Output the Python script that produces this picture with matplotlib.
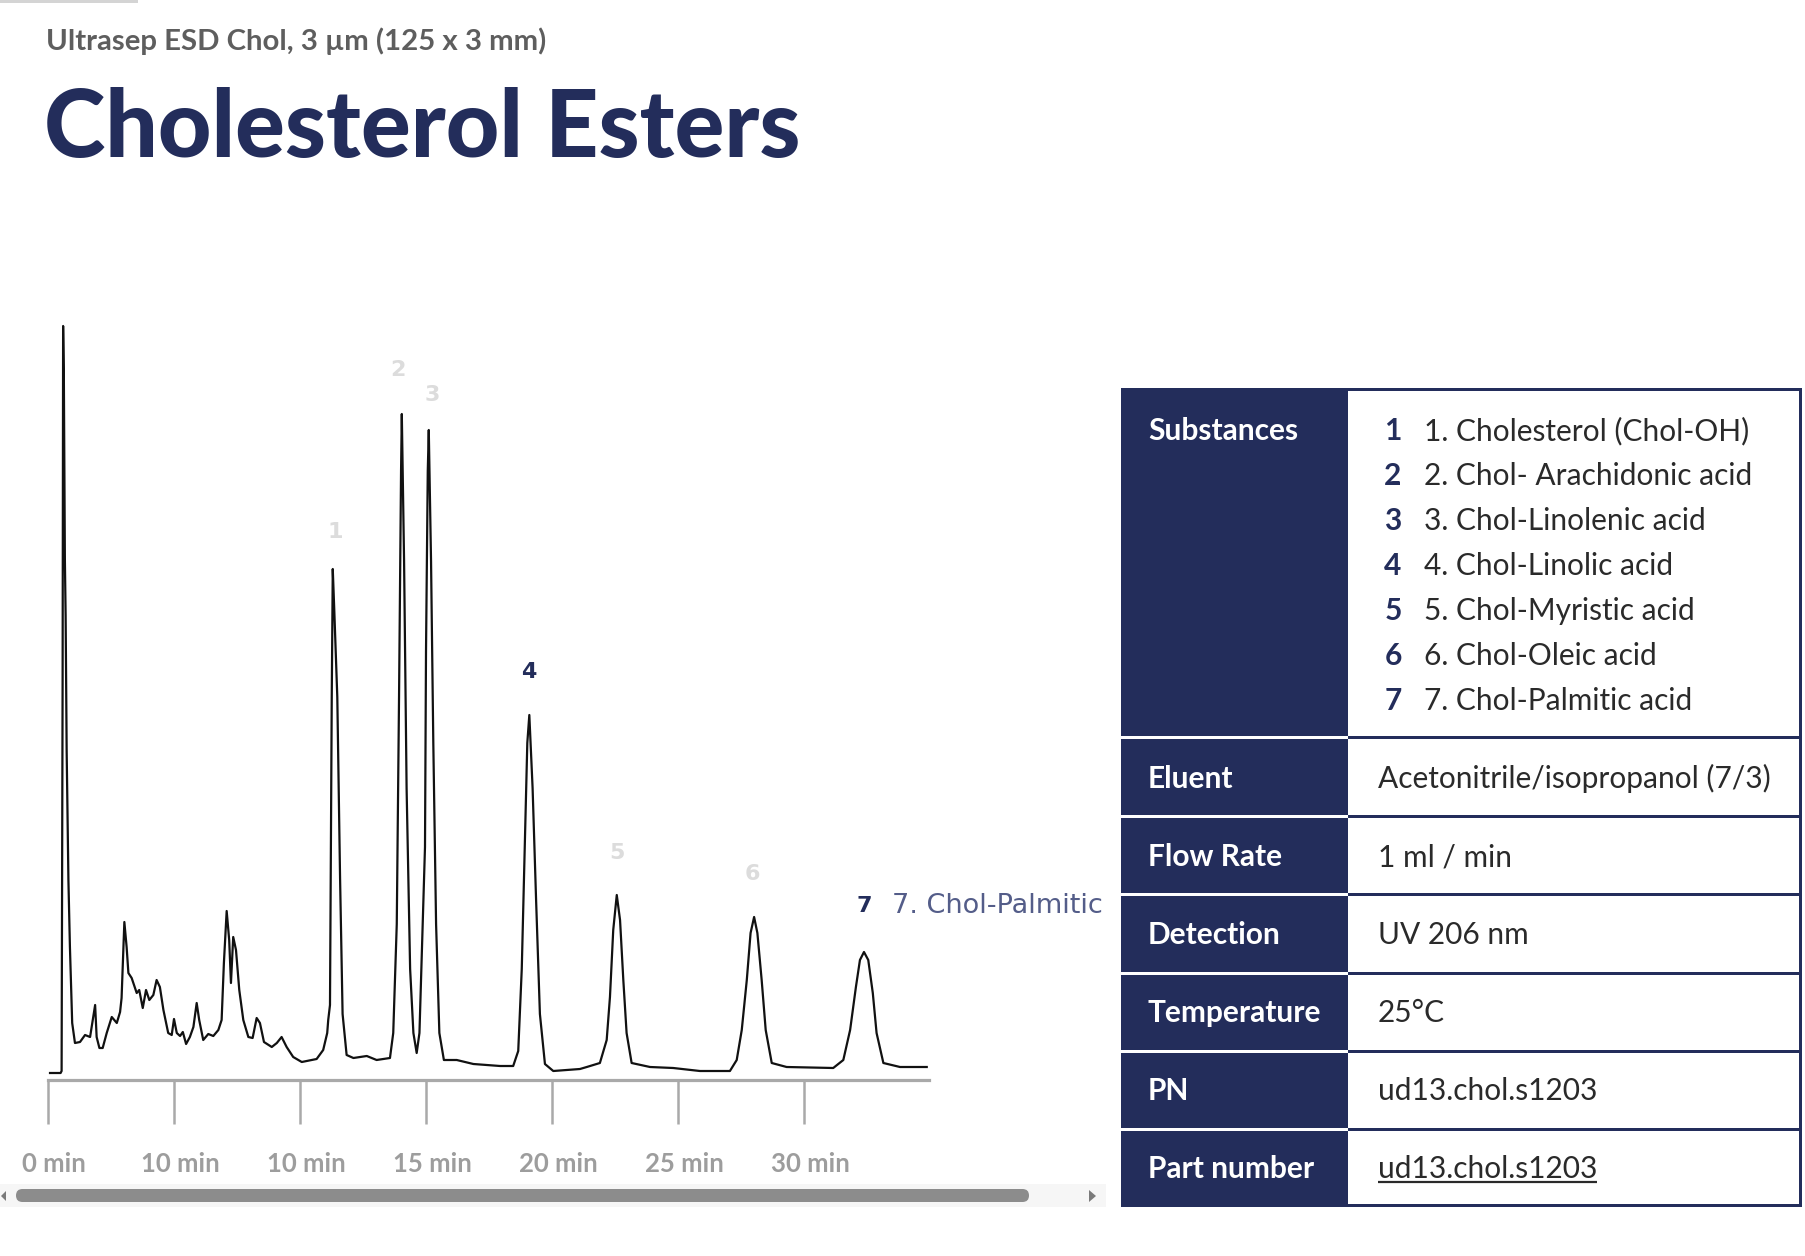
import matplotlib
matplotlib.use("Agg")
import matplotlib.pyplot as plt
from matplotlib.patches import Rectangle, FancyBboxPatch, Polygon
from matplotlib.transforms import ScaledTranslation

NAVY = "#232d5b"
W, H = 1806, 1256

# chromatogram: retention time (min) and detector signal
trace_time = [0.08, 0.50, 0.54, 0.58, 0.60, 0.63, 0.67, 0.70, 0.74, 0.81, 0.87, 0.96,
              1.07, 1.27, 1.47, 1.67, 1.80, 1.87, 1.93, 2.04, 2.17, 2.33, 2.53, 2.73,
              2.86, 2.92, 3.03, 3.12, 3.19, 3.32, 3.52, 3.62, 3.76, 3.89, 4.02, 4.18,
              4.31, 4.44, 4.58, 4.77, 4.91, 5.00, 5.11, 5.24, 5.35, 5.48, 5.63, 5.77,
              5.90, 6.00, 6.16, 6.36, 6.56, 6.76, 6.89, 6.98, 7.09, 7.19, 7.26, 7.35,
              7.46, 7.59, 7.75, 7.95, 8.12, 8.28, 8.41, 8.57, 8.88, 9.08, 9.27, 9.47,
              9.73, 10.07, 10.66, 10.92, 11.08, 11.12, 11.19, 11.23, 11.26, 11.30, 11.36,
              11.48, 11.59, 11.69, 11.85, 12.12, 12.65, 13.04, 13.57, 13.70, 13.84, 13.93,
              14.01, 14.04, 14.13, 14.23, 14.37, 14.50, 14.63, 14.74, 14.87, 14.96, 15.00,
              15.07, 15.11, 15.20, 15.29, 15.40, 15.53, 15.71, 16.22, 16.88, 17.94, 18.46,
              18.66, 18.80, 18.93, 19.02, 19.10, 19.23, 19.37, 19.52, 19.72, 20.05, 21.11,
              21.38, 21.90, 22.17, 22.30, 22.43, 22.57, 22.70, 22.83, 22.96, 23.16, 23.89,
              24.81, 25.87, 27.06, 27.33, 27.53, 27.73, 27.88, 28.02, 28.15, 28.32, 28.48,
              28.72, 29.31, 31.16, 31.56, 31.83, 32.06, 32.22, 32.38, 32.55, 32.73, 32.88,
              33.15, 33.81, 34.87]
trace_signal = [7, 7, 9, 400, 754, 700, 520, 464, 330, 200, 133, 57,
                37, 38, 45, 43, 64, 75, 43, 32, 32, 47, 63, 57,
                68, 82, 158, 133, 107, 102, 87, 90, 72, 90, 80, 85,
                100, 93, 70, 47, 45, 61, 47, 44, 48, 36, 43, 53,
                77, 60, 40, 46, 44, 50, 60, 117, 169, 140, 97, 143,
                130, 90, 60, 43, 42, 62, 57, 38, 33, 37, 43, 33,
                23, 18, 21, 30, 47, 60, 75, 247, 383, 511, 470,
                383, 202, 66, 25, 22, 24, 20, 22, 47, 156, 383,
                609, 666, 519, 292, 111, 47, 27, 47, 156, 233, 428,
                609, 650, 519, 337, 156, 47, 20, 20, 16, 14, 14,
                29, 111, 247, 337, 365, 292, 179, 66, 16, 9, 11,
                13, 17, 40, 83, 150, 185, 160, 100, 47, 17, 13,
                12, 9, 9, 20, 50, 100, 147, 163, 147, 100, 50,
                17, 13, 12, 20, 50, 93, 120, 128, 120, 87, 47,
                17, 13, 13]

peak_ids = [1, 2, 3, 4, 5, 6, 7]
peak_times = [11.30, 14.04, 15.11, 19.10, 22.57, 28.02, 32.38]
peak_heights = [511, 666, 650, 365, 185, 163, 128]
highlighted = [4, 7]

tick_vals = [0, 5, 10, 15, 20, 25, 30]
tick_labels = ["0 min", "10 min", "10 min", "15 min", "20 min", "25 min", "30 min"]

substances = ["1. Cholesterol (Chol-OH)", "2. Chol- Arachidonic acid",
              "3. Chol-Linolenic acid", "4. Chol-Linolic acid",
              "5. Chol-Myristic acid", "6. Chol-Oleic acid", "7. Chol-Palmitic acid"]
param_names = ["Eluent", "Flow Rate", "Detection", "Temperature", "PN", "Part number"]
param_values = ["Acetonitrile/isopropanol (7/3)", "1 ml / min", "UV 206 nm",
                "25°C", "ud13.chol.s1203", "ud13.chol.s1203"]

plt.rcParams["font.family"] = ["Lato", "DejaVu Sans"]

fig = plt.figure(figsize=(W / 100, H / 100), dpi=100)

# full-figure canvas in pixel units (y down) for headings and the table
cv = fig.add_axes([0, 0, 1, 1])
cv.set_xlim(0, W)
cv.set_ylim(H, 0)
cv.axis("off")

cv.add_patch(Rectangle((0, 0), 138, 3, color="#d4d4d4", lw=0))
cv.text(46, 50, "Ultrasep ESD Chol, 3 µm (125 x 3 mm)", fontsize=21.2,
        fontweight="bold", color="#5e5e5e", va="baseline")
cv.text(44, 157, "Cholesterol Esters", fontsize=67, fontweight="black",
        color=NAVY, va="baseline")

# chromatogram axes
px_per_min = 25.2
ax = fig.add_axes([48 / W, 1 - 1080 / H, 881 / W, 780 / H])
ax.patch.set_alpha(0)
ax.plot(trace_time, trace_signal, color="#111111", lw=1.6, solid_joinstyle="round")
ax.set_xlim(0, 881 / px_per_min)
ax.set_ylim(0, 780)
for side in ["top", "left", "right"]:
    ax.spines[side].set_visible(False)
ax.spines["bottom"].set_color("#a9a9a9")
ax.spines["bottom"].set_linewidth(2.3)
ax.set_yticks([])
ax.set_xticks(tick_vals, tick_labels)
ax.tick_params(axis="x", direction="out", length=32, width=1.8, color="#a9a9a9",
               pad=20, labelsize=18.5, labelcolor="#9d9d9d")
shift = ScaledTranslation(0.06, 0, fig.dpi_scale_trans)
for lab in ax.get_xticklabels():
    lab.set_fontweight("bold")
    lab.set_transform(lab.get_transform() + shift)

label_dx = [2, -4, 3, -1, 0, -2, 0]
label_dy = [37, 44, 35, 43, 42, 43, 46]
for i, pid in enumerate(peak_ids):
    hl = pid in highlighted
    ax.annotate(str(pid), (peak_times[i], peak_heights[i]),
                xytext=(label_dx[i], label_dy[i]), textcoords="offset pixels",
                ha="center", va="center", fontsize=16, fontweight="bold",
                family="DejaVu Sans", color=NAVY if hl else "#dcdcdc")
ax.annotate(substances[6].replace(" acid", ""), (peak_times[6], peak_heights[6]),
            xytext=(28, 46), textcoords="offset pixels", ha="left", va="center",
            fontsize=19.5, family="DejaVu Sans", color="#545d89")

# scroll bar under the chart
cv.add_patch(Rectangle((0, 1184), 1106, 23, color="#f6f6f6", lw=0))
cv.add_patch(FancyBboxPatch((16, 1189), 1013, 13,
                            boxstyle="round,pad=0,rounding_size=6.5",
                            color="#8c8c8c", lw=0))
cv.add_patch(Polygon([[1, 1196], [6, 1191], [6, 1201]], color="#7a7a7a", lw=0))
cv.add_patch(Polygon([[1096, 1196], [1089, 1190], [1089, 1202]], color="#7a7a7a", lw=0))

# parameter table
t_left, t_split, t_right = 1121, 1348, 1802
row_tops = [388, 736, 815, 893, 972, 1050, 1128]
row_bottoms = [736, 815, 893, 972, 1050, 1128, 1204]
cv.add_patch(Rectangle((t_left, 388), t_right - t_left, 1207 - 388, color=NAVY, lw=0))
for top, bot in zip(row_tops, row_bottoms):
    cv.add_patch(Rectangle((t_split, top + 3), t_right - 3 - t_split, bot - top - 3,
                           color="white", lw=0))
for bot in row_bottoms[:-1]:
    cv.add_patch(Rectangle((t_left, bot), t_split - t_left, 3, color="white", lw=0))

fs = 21.5
cv.text(1148, 440, "Substances", fontsize=fs, fontweight="bold", color="white",
        va="baseline")
for i, s in enumerate(substances):
    y = 440 + 45 * i
    cv.text(1393, y, str(i + 1), fontsize=fs, fontweight="bold", color=NAVY,
            ha="center", va="baseline")
    cv.text(1424, y, s, fontsize=fs, color="#2a2a2a", va="baseline")

value_texts = []
for i, (name, val) in enumerate(zip(param_names, param_values)):
    y = 788 + 78 * i
    cv.text(1148, y, name, fontsize=fs, fontweight="bold", color="white", va="baseline")
    value_texts.append(cv.text(1378, y, val, fontsize=fs, color="#2a2a2a", va="baseline"))

fig.canvas.draw()
bb = value_texts[-1].get_window_extent(renderer=fig.canvas.get_renderer())
cv.plot([bb.x0, bb.x1], [1182, 1182], color="#2a2a2a", lw=1.6, solid_capstyle="butt")

fig.savefig("out.png", dpi=100)
